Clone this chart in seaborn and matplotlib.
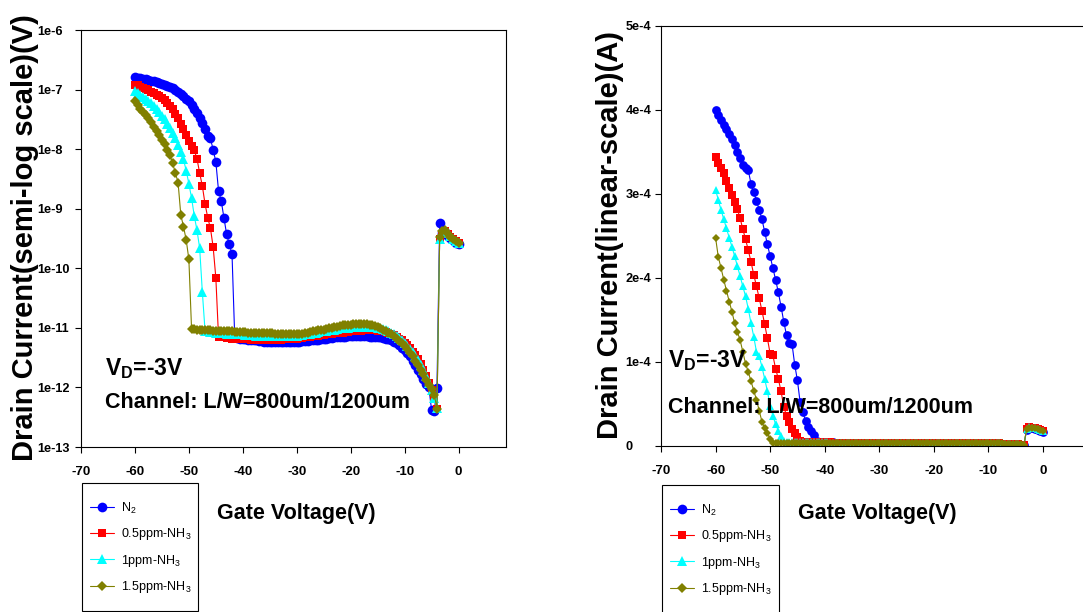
import numpy as np
import matplotlib
matplotlib.use('Agg')
import matplotlib.pyplot as plt
from matplotlib.lines import Line2D
from matplotlib.patches import Rectangle
import seaborn as sns

# gate sweep: -60 V .. 0 V in 0.5 V steps (121 points)
gate_v = np.arange(-60, 0.25, 0.5)

labels = ['N$_\\mathregular{2}$', '0.5ppm-NH$_\\mathregular{3}$',
          '1ppm-NH$_\\mathregular{3}$', '1.5ppm-NH$_\\mathregular{3}$']
colors = ['#0000ff', '#ff0000', '#00ffff', '#808000']
markers = ['o', 's', '^', 'D']
msizes = [7.0, 5.8, 6.8, 5.0]

# semi-log panel: log10 of drain current
log_n2 = [-6.79, -6.80, -6.81, -6.82, -6.83, -6.84, -6.85, -6.86, -6.87, -6.89,
          -6.90, -6.92, -6.94, -6.96, -6.98, -7.01, -7.04, -7.07, -7.11, -7.15,
          -7.20, -7.26, -7.32, -7.39, -7.47, -7.56, -7.66, -7.78, -7.82, -8.01,
          -8.21, -8.70, -8.87, -9.15, -9.43, -9.60, -9.76, -11.15, -11.17, -11.18,
          -11.19, -11.19, -11.20, -11.20, -11.21, -11.21, -11.22, -11.22, -11.23, -11.23,
          -11.23, -11.24, -11.24, -11.24, -11.24, -11.24, -11.24, -11.23, -11.23, -11.23,
          -11.23, -11.23, -11.22, -11.22, -11.22, -11.21, -11.21, -11.20, -11.20, -11.19,
          -11.19, -11.18, -11.17, -11.17, -11.16, -11.16, -11.15, -11.15, -11.15, -11.14,
          -11.14, -11.14, -11.14, -11.14, -11.14, -11.14, -11.14, -11.15, -11.15, -11.15,
          -11.16, -11.16, -11.17, -11.18, -11.19, -11.21, -11.23, -11.26, -11.29, -11.33,
          -11.37, -11.42, -11.48, -11.55, -11.63, -11.70, -11.78, -11.86, -11.94, -12.00,
          -12.38, -12.40, -12.01, -9.24, -9.40, -9.42, -9.45, -9.49, -9.53, -9.57,
          -9.60]
log_05 = [-6.92, -6.93, -6.95, -6.97, -6.99, -7.01, -7.04, -7.06, -7.09, -7.11,
          -7.14, -7.18, -7.22, -7.28, -7.33, -7.41, -7.48, -7.57, -7.66, -7.76,
          -7.87, -7.95, -8.02, -8.16, -8.40, -8.62, -8.92, -9.15, -9.33, -9.64,
          -10.16, -11.15, -11.16, -11.16, -11.17, -11.17, -11.18, -11.18, -11.18, -11.19,
          -11.19, -11.19, -11.19, -11.20, -11.20, -11.20, -11.20, -11.20, -11.20, -11.20,
          -11.20, -11.20, -11.20, -11.20, -11.20, -11.19, -11.19, -11.19, -11.18, -11.18,
          -11.18, -11.17, -11.17, -11.16, -11.15, -11.15, -11.14, -11.13, -11.13, -11.12,
          -11.12, -11.11, -11.10, -11.10, -11.09, -11.09, -11.08, -11.08, -11.07, -11.07,
          -11.06, -11.06, -11.05, -11.05, -11.05, -11.04, -11.04, -11.04, -11.04, -11.04,
          -11.05, -11.05, -11.06, -11.07, -11.08, -11.10, -11.12, -11.15, -11.18, -11.21,
          -11.25, -11.29, -11.34, -11.40, -11.46, -11.53, -11.61, -11.70, -11.80, -11.92,
          -12.05, -12.20, -12.36, -9.50, -9.42, -9.38, -9.42, -9.47, -9.51, -9.55,
          -9.58]
log_1 = [-7.03, -7.06, -7.09, -7.12, -7.15, -7.19, -7.23, -7.28, -7.33, -7.38,
         -7.44, -7.50, -7.57, -7.65, -7.73, -7.82, -7.93, -8.04, -8.17, -8.36,
         -8.58, -8.82, -9.12, -9.36, -9.66, -10.40, -11.05, -11.06, -11.07, -11.07,
         -11.08, -11.08, -11.09, -11.09, -11.10, -11.10, -11.10, -11.11, -11.11, -11.11,
         -11.11, -11.12, -11.12, -11.12, -11.12, -11.13, -11.13, -11.13, -11.13, -11.13,
         -11.14, -11.14, -11.14, -11.14, -11.14, -11.14, -11.14, -11.14, -11.13, -11.13,
         -11.13, -11.12, -11.12, -11.11, -11.10, -11.10, -11.09, -11.08, -11.07, -11.06,
         -11.06, -11.05, -11.04, -11.03, -11.03, -11.02, -11.01, -11.01, -11.00, -11.00,
         -10.99, -10.99, -10.98, -10.98, -10.98, -10.98, -10.98, -10.98, -10.99, -10.99,
         -11.00, -11.01, -11.02, -11.04, -11.06, -11.08, -11.11, -11.14, -11.17, -11.21,
         -11.25, -11.30, -11.35, -11.41, -11.47, -11.54, -11.62, -11.71, -11.81, -11.92,
         -12.05, -12.18, -12.34, -9.50, -9.40, -9.37, -9.41, -9.46, -9.51, -9.55,
         -9.57]
log_15 = [-7.20, -7.26, -7.32, -7.37, -7.42, -7.48, -7.54, -7.62, -7.70, -7.76,
          -7.85, -7.92, -8.01, -8.10, -8.24, -8.40, -8.56, -9.10, -9.30, -9.52,
          -9.85, -11.02, -11.02, -11.03, -11.03, -11.03, -11.04, -11.04, -11.04, -11.05,
          -11.05, -11.05, -11.05, -11.06, -11.06, -11.06, -11.06, -11.07, -11.07, -11.07,
          -11.07, -11.07, -11.08, -11.08, -11.08, -11.08, -11.08, -11.09, -11.09, -11.09,
          -11.09, -11.09, -11.10, -11.10, -11.10, -11.11, -11.11, -11.11, -11.11, -11.11,
          -11.11, -11.10, -11.10, -11.09, -11.08, -11.07, -11.06, -11.05, -11.04, -11.03,
          -11.03, -11.02, -11.01, -11.00, -10.99, -10.98, -10.97, -10.96, -10.96, -10.95,
          -10.95, -10.94, -10.94, -10.93, -10.93, -10.93, -10.94, -10.95, -10.96, -10.97,
          -10.99, -11.01, -11.03, -11.05, -11.08, -11.11, -11.14, -11.18, -11.22, -11.26,
          -11.31, -11.36, -11.42, -11.48, -11.55, -11.62, -11.70, -11.78, -11.87, -11.96,
          -12.03, -12.12, -12.36, -9.48, -9.38, -9.36, -9.42, -9.47, -9.51, -9.55,
          -9.57]

# linear panel: drain current in units of 1e-4 A
lin_n2 = [4.00, 3.94, 3.88, 3.82, 3.77, 3.71, 3.66, 3.58, 3.50, 3.43,
          3.35, 3.31, 3.28, 3.12, 3.02, 2.92, 2.81, 2.70, 2.55, 2.40,
          2.26, 2.12, 1.98, 1.83, 1.66, 1.48, 1.32, 1.23, 1.22, 0.97,
          0.78, 0.52, 0.40, 0.30, 0.23, 0.18, 0.13, 0.06, 0.05, 0.05,
          0.05, 0.05, 0.05, 0.05, 0.04, 0.04, 0.04, 0.04, 0.04, 0.04,
          0.04, 0.04, 0.04, 0.04, 0.04, 0.04, 0.04, 0.04, 0.04, 0.04,
          0.04, 0.04, 0.04, 0.04, 0.04, 0.04, 0.04, 0.04, 0.04, 0.04,
          0.04, 0.04, 0.04, 0.04, 0.04, 0.04, 0.04, 0.04, 0.04, 0.04,
          0.04, 0.04, 0.04, 0.04, 0.04, 0.04, 0.04, 0.04, 0.04, 0.04,
          0.04, 0.04, 0.04, 0.04, 0.03, 0.03, 0.03, 0.03, 0.03, 0.03,
          0.03, 0.03, 0.03, 0.03, 0.02, 0.02, 0.02, 0.02, 0.02, 0.02,
          0.02, 0.01, 0.01, 0.01, 0.19, 0.22, 0.21, 0.20, 0.19, 0.18,
          0.17]
lin_05 = [3.44, 3.37, 3.31, 3.25, 3.16, 3.07, 2.99, 2.91, 2.82, 2.71,
          2.58, 2.46, 2.33, 2.19, 2.04, 1.90, 1.76, 1.61, 1.45, 1.28,
          1.10, 1.08, 0.92, 0.80, 0.65, 0.47, 0.36, 0.28, 0.20, 0.15,
          0.11, 0.06, 0.05, 0.05, 0.05, 0.05, 0.05, 0.05, 0.05, 0.05,
          0.05, 0.05, 0.05, 0.04, 0.04, 0.04, 0.04, 0.04, 0.04, 0.04,
          0.04, 0.04, 0.04, 0.04, 0.04, 0.04, 0.04, 0.04, 0.04, 0.04,
          0.04, 0.04, 0.04, 0.04, 0.04, 0.04, 0.04, 0.04, 0.04, 0.04,
          0.04, 0.04, 0.04, 0.04, 0.04, 0.04, 0.04, 0.04, 0.04, 0.04,
          0.04, 0.04, 0.04, 0.04, 0.04, 0.04, 0.04, 0.04, 0.04, 0.04,
          0.04, 0.04, 0.04, 0.04, 0.04, 0.03, 0.03, 0.03, 0.03, 0.03,
          0.03, 0.03, 0.03, 0.03, 0.03, 0.02, 0.02, 0.02, 0.02, 0.02,
          0.02, 0.02, 0.01, 0.01, 0.20, 0.23, 0.22, 0.21, 0.20, 0.19,
          0.18]
lin_1 = [3.05, 2.93, 2.81, 2.70, 2.59, 2.48, 2.37, 2.26, 2.14, 2.02,
         1.90, 1.78, 1.63, 1.46, 1.30, 1.12, 1.07, 0.94, 0.80, 0.65,
         0.48, 0.36, 0.26, 0.18, 0.12, 0.06, 0.05, 0.05, 0.05, 0.05,
         0.05, 0.05, 0.05, 0.05, 0.05, 0.05, 0.05, 0.05, 0.05, 0.05,
         0.05, 0.05, 0.04, 0.04, 0.04, 0.04, 0.04, 0.04, 0.04, 0.04,
         0.04, 0.04, 0.04, 0.04, 0.04, 0.04, 0.04, 0.04, 0.04, 0.04,
         0.04, 0.04, 0.04, 0.04, 0.04, 0.04, 0.04, 0.04, 0.04, 0.04,
         0.04, 0.04, 0.04, 0.04, 0.04, 0.04, 0.04, 0.04, 0.04, 0.04,
         0.04, 0.04, 0.04, 0.04, 0.04, 0.04, 0.04, 0.04, 0.04, 0.04,
         0.04, 0.04, 0.04, 0.04, 0.04, 0.04, 0.03, 0.03, 0.03, 0.03,
         0.03, 0.03, 0.03, 0.03, 0.03, 0.02, 0.02, 0.02, 0.02, 0.02,
         0.02, 0.02, 0.01, 0.01, 0.20, 0.23, 0.22, 0.21, 0.20, 0.19,
         0.18]
lin_15 = [2.48, 2.25, 2.12, 1.98, 1.85, 1.72, 1.60, 1.46, 1.36, 1.26,
          1.12, 0.98, 0.88, 0.77, 0.66, 0.55, 0.42, 0.29, 0.21, 0.15,
          0.08, 0.04, 0.04, 0.04, 0.04, 0.04, 0.04, 0.04, 0.04, 0.04,
          0.04, 0.04, 0.04, 0.04, 0.04, 0.04, 0.04, 0.04, 0.04, 0.04,
          0.04, 0.04, 0.04, 0.04, 0.04, 0.04, 0.04, 0.04, 0.04, 0.04,
          0.04, 0.04, 0.04, 0.04, 0.04, 0.04, 0.04, 0.04, 0.04, 0.04,
          0.04, 0.04, 0.04, 0.04, 0.04, 0.04, 0.04, 0.04, 0.04, 0.04,
          0.04, 0.04, 0.04, 0.04, 0.04, 0.04, 0.04, 0.04, 0.04, 0.04,
          0.04, 0.04, 0.04, 0.04, 0.04, 0.04, 0.04, 0.04, 0.04, 0.04,
          0.04, 0.04, 0.04, 0.04, 0.04, 0.04, 0.04, 0.03, 0.03, 0.03,
          0.03, 0.03, 0.03, 0.03, 0.03, 0.03, 0.02, 0.02, 0.02, 0.02,
          0.02, 0.02, 0.02, 0.01, 0.20, 0.22, 0.22, 0.21, 0.20, 0.19,
          0.18]

log_ticks = [1e-13, 1e-12, 1e-11, 1e-10, 1e-9, 1e-8, 1e-7, 1e-6]
log_ticklabels = ['1e-13', '1e-12', '1e-11', '1e-10', '1e-9', '1e-8', '1e-7', '1e-6']
lin_ticks = [0, 1e-4, 2e-4, 3e-4, 4e-4, 5e-4]
lin_ticklabels = ['0', '1e-4', '2e-4', '3e-4', '4e-4', '5e-4']
x_ticks = [-70, -60, -50, -40, -30, -20, -10, 0]

sns.set_theme(style='ticks', rc={'axes.edgecolor': 'black', 'xtick.color': 'black',
                                  'ytick.color': 'black', 'text.color': 'black',
                                  'axes.linewidth': 0.8})
plt.rcParams['font.family'] = ['Liberation Sans', 'DejaVu Sans']

W, H = 1083, 612
fig = plt.figure(figsize=(W / 100, H / 100), dpi=100)
ax1 = fig.add_axes([81 / W, 1 - 447 / H, 425 / W, 417 / H])
ax2 = fig.add_axes([661 / W, 1 - 446 / H, 430 / W, 420 / H])

ax1.set_yscale('log')
for ys, c, m, ms in zip([log_n2, log_05, log_1, log_15], colors, markers, msizes):
    sns.lineplot(x=gate_v, y=10.0 ** np.array(ys), color=c, marker=m, markersize=ms,
                 markeredgewidth=0, linewidth=0.8, estimator=None, sort=False, ax=ax1)
for ys, c, m, ms in zip([lin_n2, lin_05, lin_1, lin_15], colors, markers, msizes):
    sns.lineplot(x=gate_v, y=np.array(ys) * 1e-4, color=c, marker=m, markersize=ms * 0.9,
                 markeredgewidth=0, linewidth=0.8, estimator=None, sort=False, ax=ax2)

ax1.set_ylim(1e-13, 1e-6)
ax1.set_yticks(log_ticks)
ax1.set_yticklabels(log_ticklabels)
ax1.minorticks_off()
ax2.set_ylim(0, 5e-4)
ax2.set_yticks(lin_ticks)
ax2.set_yticklabels(lin_ticklabels)

# tick labels on the y axes are left-aligned in the original
for ax, ypad in [(ax1, 27.3), (ax2, 21.6)]:
    ax.set_xlim(-70, 8.8)
    ax.set_xticks(x_ticks)
    ax.set_xticklabels([str(v) for v in x_ticks])
    ax.set_xlabel('')
    ax.set_ylabel('')
    ax.tick_params(axis='x', direction='out', length=4, width=0.8, pad=9.5, labelsize=9.5)
    ax.tick_params(axis='y', direction='out', length=4, width=0.8, pad=ypad, labelsize=9.2)
    for lbl in ax.get_xticklabels() + ax.get_yticklabels():
        lbl.set_fontweight('bold')
    for lbl in ax.get_yticklabels():
        lbl.set_horizontalalignment('left')

# y titles: baseline placed just left of the tick labels
fig.text(33 / W, 1 - 237.5 / H, 'Drain Current(semi-log scale)(V)', rotation=90,
         rotation_mode='anchor', ha='center', va='baseline', fontsize=21, fontweight='bold')
fig.text(618 / W, 1 - 235 / H, 'Drain Current(linear-scale)(A)', rotation=90,
         rotation_mode='anchor', ha='center', va='baseline', fontsize=21, fontweight='bold')
fig.text(296 / W, 1 - 513 / H, 'Gate Voltage(V)', ha='center', va='center',
         fontsize=15.5, fontweight='bold')
fig.text(877 / W, 1 - 513 / H, 'Gate Voltage(V)', ha='center', va='center',
         fontsize=15.5, fontweight='bold')

vd_text = 'V$_\\mathregular{D}$=-3V'
ch_text = 'Channel: L/W=800um/1200um'
fig.text(105 / W, 1 - 375 / H, vd_text, ha='left', va='baseline', fontsize=16.5, fontweight='bold')
fig.text(105 / W, 1 - 408 / H, ch_text, ha='left', va='baseline', fontsize=15.5, fontweight='bold')
fig.text(668 / W, 1 - 367 / H, vd_text, ha='left', va='baseline', fontsize=16.5, fontweight='bold')
fig.text(668 / W, 1 - 413 / H, ch_text, ha='left', va='baseline', fontsize=15.5, fontweight='bold')

handles = [Line2D([], [], color=c, marker=m, markersize=ms, markeredgewidth=0, linewidth=0.8)
           for c, m, ms in zip(colors, markers, msizes)]
for ax, x0, yc, box in [(ax1, 90, 548, (82, 483, 116, 128)),
                        (ax2, 670, 550, (662, 485, 117, 130))]:
    fig.patches.append(Rectangle((box[0] / W, 1 - (box[1] + box[3]) / H), box[2] / W, box[3] / H,
                                 transform=fig.transFigure, fill=False, edgecolor='black',
                                 linewidth=0.8))
    ax.legend(handles, labels, loc='center left', bbox_to_anchor=(x0 / W, 1 - yc / H),
              bbox_transform=fig.transFigure, frameon=False, borderpad=0, borderaxespad=0,
              handlelength=1.95, handletextpad=0.5, labelspacing=0.85, fontsize=9)

fig.savefig('out.png', dpi=100)
